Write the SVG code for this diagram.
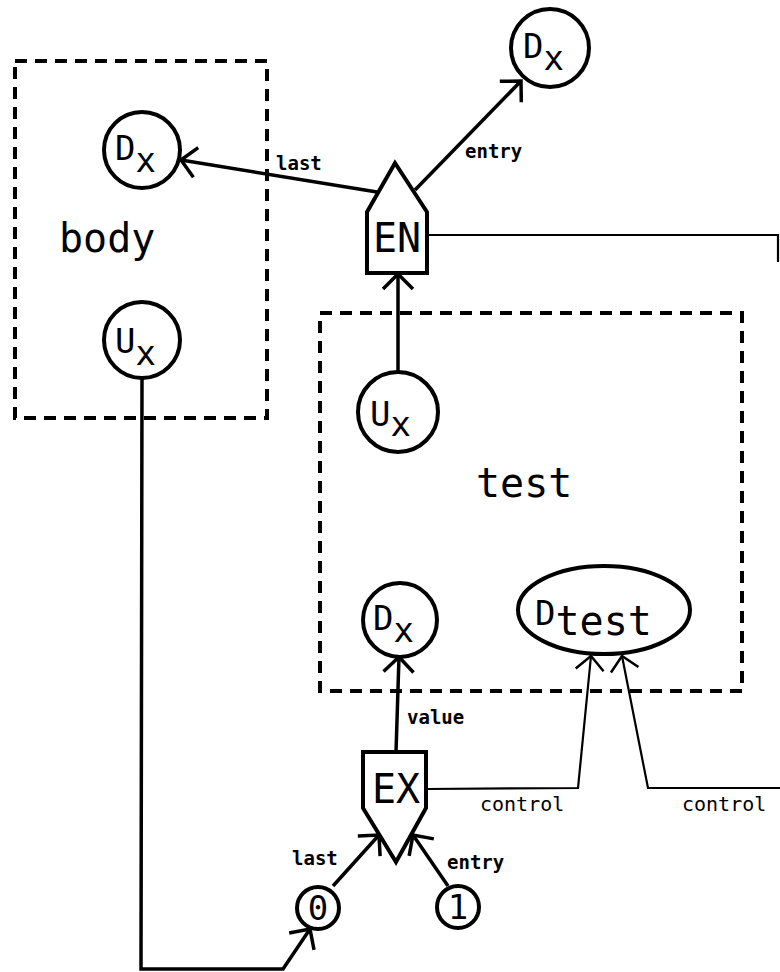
<svg xmlns="http://www.w3.org/2000/svg" width="780" height="972" viewBox="0 0 780 972">
<style>
.box{fill:none;stroke:#000;stroke-width:4;stroke-dasharray:12 8}
.node{fill:#fff;stroke:#000;stroke-width:4}
.big{font-family:"DejaVu Sans Mono","Liberation Mono",monospace;font-size:40px;fill:#000}
.lbl{font-family:"DejaVu Sans Mono","Liberation Mono",monospace;font-size:34px;fill:#000}
.ebl{font-family:"DejaVu Sans Mono","Liberation Mono",monospace;font-size:19px;font-weight:bold;fill:#000}
.ctl{font-family:"DejaVu Sans Mono","Liberation Mono",monospace;font-size:20px;fill:#000}
.thick{fill:none;stroke:#000;stroke-width:3.5}
.thin{fill:none;stroke:#000;stroke-width:2.2}
</style>
<defs>
<marker id="ah" markerUnits="userSpaceOnUse" markerWidth="40" markerHeight="40" viewBox="-20 -20 40 40" refX="0" refY="0" orient="auto" overflow="visible">
<path d="M-15,-15 L0,0 L-15,15" fill="none" stroke="#000" stroke-width="3.5"/>
</marker>
<marker id="ahthin" markerUnits="userSpaceOnUse" markerWidth="40" markerHeight="40" viewBox="-20 -20 40 40" refX="0" refY="0" orient="auto" overflow="visible">
<path d="M-14,-14 L0,0 L-14,14" fill="none" stroke="#000" stroke-width="2.5"/>
</marker>
</defs>
<rect width="780" height="972" fill="#fff"/>

<g id="body-box"><rect class="box" x="15" y="61" width="252" height="357"/><text class="big" x="59" y="252">body</text></g>
<g id="test-box"><rect class="box" x="320" y="313" width="422" height="378"/><text class="big" x="476" y="497">test</text></g>

<g id="connectors">
<line class="thick" x1="377" y1="192" x2="181" y2="160" marker-end="url(#ah)"/>
<text class="ebl" x="276" y="170">last</text>
<line class="thick" x1="415" y1="190" x2="521" y2="81" marker-end="url(#ah)"/>
<text class="ebl" x="465" y="158">entry</text>
<path class="thin" d="M427,235 H778 V262"/>
<line class="thick" x1="398" y1="372" x2="398" y2="274" marker-end="url(#ah)"/>
<line class="thick" x1="396" y1="752" x2="399" y2="657" marker-end="url(#ah)"/>
<text class="ebl" x="407" y="724">value</text>
<path class="thin" d="M426,789 L578,788 L591,656" marker-end="url(#ahthin)"/>
<text class="ctl" x="480" y="811">control</text>
<path class="thin" d="M780,788 L648,788 L622,656" marker-end="url(#ahthin)"/>
<text class="ctl" x="682" y="811">control</text>
<line class="thick" x1="333" y1="886" x2="379" y2="835" marker-end="url(#ah)"/>
<text class="ebl" x="292" y="865">last</text>
<line class="thick" x1="448" y1="886" x2="413" y2="835" marker-end="url(#ah)"/>
<text class="ebl" x="447" y="869">entry</text>
<path class="thick" d="M142,378 L141,969 L283,969 L310,929" marker-end="url(#ah)"/>
</g>

<g id="dx-body"><circle class="node" cx="142" cy="150" r="38"/><text class="lbl" x="115" y="160">D<tspan dy="12">x</tspan></text></g>
<g id="ux-body"><circle class="node" cx="142" cy="340" r="38"/><text class="lbl" x="115" y="353">U<tspan dy="12">x</tspan></text></g>
<g id="dx-top"><circle class="node" cx="550" cy="48" r="39"/><text class="lbl" x="523" y="58">D<tspan dy="12">x</tspan></text></g>
<g id="en"><polygon class="node" points="367,212 395,163 427,212 427,273 367,273"/><text class="big" x="397" y="252" text-anchor="middle" font-size="38">EN</text></g>
<g id="ux-test"><circle class="node" cx="398" cy="412" r="40"/><text class="lbl" x="370" y="426">U<tspan dy="10">x</tspan></text></g>
<g id="dx-test"><circle class="node" cx="400" cy="620" r="37"/><text class="lbl" x="373" y="630">D<tspan dy="12">x</tspan></text></g>
<g id="dtest"><ellipse class="node" cx="604" cy="610" rx="86" ry="44"/><text class="lbl" x="535" y="625">D<tspan class="big" font-size="38" dy="10">test</tspan></text></g>
<g id="ex"><polygon class="node" points="363,752 426,752 426,808 396,862 363,808"/><text class="big" x="396" y="803" text-anchor="middle">EX</text></g>
<g id="zero"><circle class="node" cx="318" cy="908" r="21"/><text class="lbl" x="318" y="920" text-anchor="middle">0</text></g>
<g id="one"><circle class="node" cx="458" cy="907" r="21"/><text class="lbl" x="458" y="919" text-anchor="middle">1</text></g>
</svg>
